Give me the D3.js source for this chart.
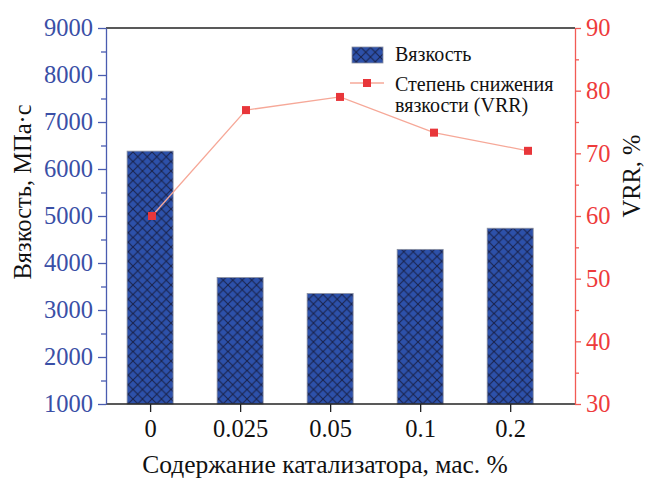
<!DOCTYPE html>
<html>
<head>
<meta charset="utf-8">
<script src="https://cdn.jsdelivr.net/npm/d3@7"></script>
<style>
  html, body { margin: 0; padding: 0; background: #fff; }
  svg { display: block; font-family: "Liberation Serif", "Times New Roman", serif; }
</style>
</head>
<body>
<svg id="chart" width="645" height="478"></svg>
<script>
const categories = ["0", "0.025", "0.05", "0.1", "0.2"];
const viscosity = [6380, 3690, 3350, 4290, 4740];
const vrr = [60.0, 76.9, 79.0, 73.3, 70.4];
const leftTicks = [1000, 2000, 3000, 4000, 5000, 6000, 7000, 8000, 9000];
const rightTicks = [30, 40, 50, 60, 70, 80, 90];

const svg = d3.select("#chart");
const L = 106, R = 575, T = 28, B = 404;
const blueAxis = "#4a5cb0", blueText = "#3a4fa6", redAxis = "#f25a55", redText = "#ee3b3b";

const idx = d3.range(categories.length);
const x = d3.scaleLinear().domain([-0.49, 4.72]).range([L, R]);
const xLine = d3.scaleLinear().domain([0, 4]).range([152, 528]);
const yL = d3.scaleLinear().domain([1000, 9000]).range([B, T]);
const yR = d3.scaleLinear().domain([30, 90]).range([B, T]);

// pattern
const defs = svg.append("defs");
const pat = defs.append("pattern").attr("id", "hatch").attr("patternUnits", "userSpaceOnUse")
  .attr("width", 9.5).attr("height", 9.5);
pat.append("rect").attr("width", 9.5).attr("height", 9.5).attr("fill", "#2d51aa");
pat.append("path").attr("d", "M-1,-1 L10.5,10.5 M10.5,-1 L-1,10.5")
  .attr("stroke", "#161a3a").attr("stroke-width", 1.1).attr("opacity", 0.85);

// bars
const bw = 46;
svg.append("g").selectAll("rect").data(idx).join("rect")
  .attr("x", i => x(i) - bw / 2)
  .attr("y", i => yL(viscosity[i]))
  .attr("width", bw)
  .attr("height", i => B - yL(viscosity[i]))
  .attr("fill", "url(#hatch)")
  .attr("stroke", "#8a8fa0").attr("stroke-width", 0.8);

// line
svg.append("path").datum(idx)
  .attr("d", d3.line().x(i => xLine(i)).y(i => yR(vrr[i])))
  .attr("fill", "none").attr("stroke", "#f6a898").attr("stroke-width", 1.3);
svg.append("g").selectAll("rect").data(idx).join("rect")
  .attr("x", i => xLine(i) - 4).attr("y", i => yR(vrr[i]) - 4)
  .attr("width", 8).attr("height", 8).attr("fill", "#e8363a");

// top spine
svg.append("line").attr("x1", L).attr("x2", R).attr("y1", T).attr("y2", T).attr("stroke", "#222").attr("stroke-width", 1.3);

// x axis
const gx = svg.append("g").attr("transform", `translate(0,${B})`)
  .call(d3.axisBottom(x).tickValues(idx).tickFormat(i => categories[i]).tickSize(8).tickSizeOuter(0));
gx.select(".domain").attr("stroke", "#222").attr("stroke-width", 1.3).attr("d", `M${L},0H${R}`);
gx.selectAll(".tick line").attr("stroke", "#222").attr("stroke-width", 1.3);
gx.selectAll(".tick text").attr("fill", "#111").attr("font-size", 24.5).attr("font-family", "Liberation Serif").attr("dy", "0.95em").attr("y", 10);

// left axis
const gl = svg.append("g").attr("transform", `translate(${L},0)`)
  .call(d3.axisLeft(yL).tickValues(leftTicks).tickFormat(d3.format("d")).tickSize(8).tickSizeOuter(0).tickPadding(5));
gl.select(".domain").attr("stroke", blueAxis).attr("stroke-width", 1.3);
gl.selectAll(".tick line").attr("stroke", blueAxis).attr("stroke-width", 1.3);
gl.selectAll(".tick text").attr("fill", blueText).attr("font-size", 24.5).attr("font-family", "Liberation Serif");
const glm = svg.append("g").attr("transform", `translate(${L},0)`)
  .call(d3.axisLeft(yL).tickValues(leftTicks.slice(0, -1).map(d => d + 500)).tickFormat("").tickSize(5).tickSizeOuter(0));
glm.select(".domain").remove();
glm.selectAll(".tick line").attr("stroke", blueAxis).attr("stroke-width", 1.3);

// right axis
const gr = svg.append("g").attr("transform", `translate(${R},0)`)
  .call(d3.axisRight(yR).tickValues(rightTicks).tickSize(6).tickSizeOuter(0).tickPadding(5));
gr.select(".domain").attr("stroke", redAxis).attr("stroke-width", 1.3);
gr.selectAll(".tick line").attr("stroke", redAxis).attr("stroke-width", 1.3);
gr.selectAll(".tick text").attr("fill", redText).attr("font-size", 24.5).attr("font-family", "Liberation Serif");
const grm = svg.append("g").attr("transform", `translate(${R},0)`)
  .call(d3.axisRight(yR).tickValues(rightTicks.slice(0, -1).map(d => d + 5)).tickFormat("").tickSize(4).tickSizeOuter(0));
grm.select(".domain").remove();
grm.selectAll(".tick line").attr("stroke", redAxis).attr("stroke-width", 1.3);

// titles
svg.append("text").attr("x", 325).attr("y", 473).attr("text-anchor", "middle")
  .attr("font-size", 25.5).attr("fill", "#111").text("Содержание катализатора, мас. %");
svg.append("text").attr("transform", "translate(31,192) rotate(-90)").attr("text-anchor", "middle")
  .attr("font-size", 24.5).attr("fill", "#111").text("Вязкость, МПа·с");
svg.append("text").attr("transform", "translate(640,176) rotate(-90)").attr("text-anchor", "middle")
  .attr("font-size", 24.5).attr("fill", "#111").text("VRR, %");

// legend
const lg = svg.append("g");
lg.append("rect").attr("x", 352).attr("y", 47).attr("width", 31).attr("height", 16)
  .attr("fill", "url(#hatch)").attr("stroke", "#8a8fa0").attr("stroke-width", 0.8);
lg.append("text").attr("x", 395).attr("y", 61).attr("font-size", 20).attr("fill", "#111").text("Вязкость");
lg.append("line").attr("x1", 350).attr("x2", 384).attr("y1", 83).attr("y2", 83)
  .attr("stroke", "#f6a898").attr("stroke-width", 1.3);
lg.append("rect").attr("x", 363).attr("y", 79).attr("width", 8).attr("height", 8).attr("fill", "#e8363a");
lg.append("text").attr("x", 395).attr("y", 91).attr("font-size", 20).attr("fill", "#111").text("Степень снижения");
lg.append("text").attr("x", 395).attr("y", 112).attr("font-size", 20).attr("fill", "#111").text("вязкости (VRR)");
</script>
</body>
</html>
